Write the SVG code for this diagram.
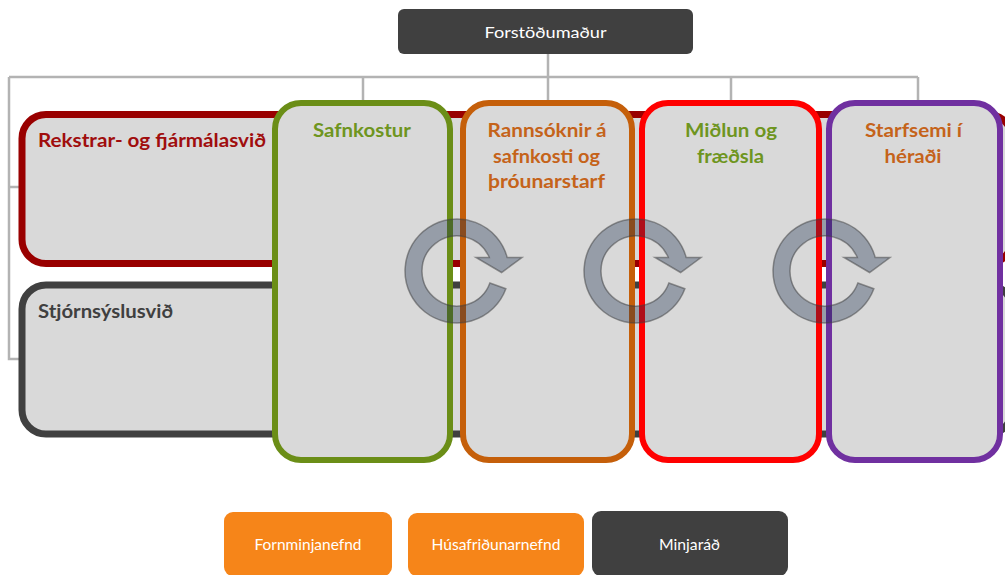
<svg xmlns="http://www.w3.org/2000/svg" width="1005" height="575" viewBox="0 0 1005 575">
<style>
.lbl{font-family:Lato,"Open Sans","DejaVu Sans",sans-serif;font-weight:bold;font-size:19px}
.sm{font-family:Lato,"Open Sans","DejaVu Sans",sans-serif;font-size:15px;fill:#ffffff}
.conn{fill:none;stroke:#b3b3b3;stroke-width:2.5}
.vbox{fill:#d9d9d9;stroke-width:6}
.hbox{fill:#d9d9d9;stroke-width:7}
.cyc{fill:#14284a;fill-opacity:0.34;stroke:#404040;stroke-opacity:0.5;stroke-width:1.5}
</style>
<defs>
<path id="cycle" d="M 48.86 17.79 A 52 52 0 1 1 50.22 -13.5 L 65 -13.5 L 44.6 1.5 L 19 -13.5 L 32.29 -13.5 A 35 35 0 1 0 32.89 11.97 Z"/>
</defs>
<rect width="1005" height="575" fill="#ffffff"/>
<g id="connectors">
<path class="conn" d="M548 53 V100 M9 77 H918 M9 77 V359 H22 M9 187 H22 M363 77 V103 M731 77 V103 M918 77 V103"/>
</g>
<g id="forstodumadur">
<rect x="398" y="9" width="295" height="45" rx="6" fill="#404040"/>
<text class="sm" x="545.5" y="38" text-anchor="middle" textLength="122" lengthAdjust="spacingAndGlyphs" font-size="16">Forstöðumaður</text>
</g>
<g id="rekstrar">
<rect class="hbox" x="22" y="114.5" width="990" height="149" rx="24" stroke="#990000"/>
<text class="lbl" x="38" y="146.5" fill="#a00d0d" textLength="228" lengthAdjust="spacingAndGlyphs">Rekstrar- og fjármálasvið</text>
</g>
<g id="stjornsysla">
<rect class="hbox" x="22" y="285" width="990" height="149" rx="24" stroke="#404040"/>
<text class="lbl" x="38" y="317.5" fill="#404040" textLength="135" lengthAdjust="spacingAndGlyphs">Stjórnsýslusvið</text>
</g>
<g id="safnkostur">
<rect class="vbox" x="275" y="103" width="175" height="357" rx="26" stroke="#6b8e17"/>
<text class="lbl" x="362" y="136.5" fill="#6e9520" text-anchor="middle" textLength="98" lengthAdjust="spacingAndGlyphs">Safnkostur</text>
</g>
<g id="rannsoknir">
<rect class="vbox" x="463" y="103" width="169" height="357" rx="26" stroke="#c55f0a"/>
<text class="lbl" fill="#c5631a" text-anchor="middle"><tspan x="547" y="136.5" textLength="119" lengthAdjust="spacingAndGlyphs">Rannsóknir á</tspan><tspan x="546.5" y="162.5" textLength="107" lengthAdjust="spacingAndGlyphs">safnkosti og</tspan><tspan x="546.5" y="188" textLength="117" lengthAdjust="spacingAndGlyphs">þróunarstarf</tspan></text>
</g>
<g id="midlun">
<rect class="vbox" x="642" y="103" width="177" height="357" rx="26" stroke="#ff0000"/>
<text class="lbl" fill="#6e9520" text-anchor="middle"><tspan x="731" y="136.5" textLength="92" lengthAdjust="spacingAndGlyphs">Miðlun og</tspan><tspan x="730.5" y="162.5" textLength="67" lengthAdjust="spacingAndGlyphs">fræðsla</tspan></text>
</g>
<g id="starfsemi">
<rect class="vbox" x="829" y="103" width="171" height="357" rx="26" stroke="#7030a0"/>
<text class="lbl" fill="#c5631a" text-anchor="middle"><tspan x="913.5" y="136.5" textLength="97" lengthAdjust="spacingAndGlyphs">Starfsemi í</tspan><tspan x="913" y="162.5" textLength="57" lengthAdjust="spacingAndGlyphs">héraði</tspan></text>
</g>
<g id="cycles">
<use href="#cycle" class="cyc" transform="translate(457 271)"/>
<use href="#cycle" class="cyc" transform="translate(636 271)"/>
<use href="#cycle" class="cyc" transform="translate(825 271)"/>
</g>
<g id="fornminjanefnd">
<rect x="224" y="512" width="168" height="64" rx="9" fill="#f68519"/>
<text class="sm" x="308" y="549.5" text-anchor="middle" textLength="107" lengthAdjust="spacingAndGlyphs">Fornminjanefnd</text>
</g>
<g id="husafridunarnefnd">
<rect x="408" y="513" width="176" height="63" rx="9" fill="#f68519"/>
<text class="sm" x="496" y="549.5" text-anchor="middle" textLength="129" lengthAdjust="spacingAndGlyphs">Húsafriðunarnefnd</text>
</g>
<g id="minjarad">
<rect x="592" y="511" width="196" height="65" rx="9" fill="#404040"/>
<text class="sm" x="689.5" y="549.5" text-anchor="middle" textLength="61" lengthAdjust="spacingAndGlyphs">Minjaráð</text>
</g>
</svg>
